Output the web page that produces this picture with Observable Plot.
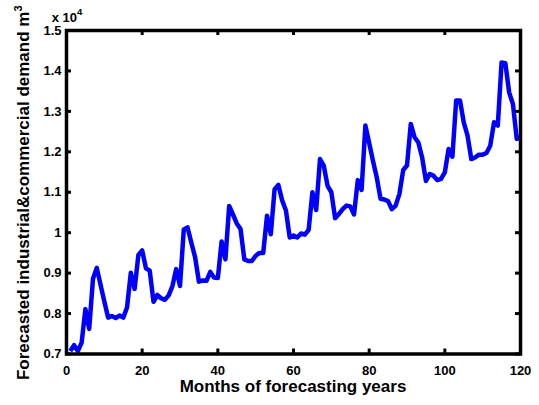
<!DOCTYPE html>
<html>
<head>
<meta charset="utf-8">
<script src="https://cdn.jsdelivr.net/npm/d3@7"></script>
<script src="https://cdn.jsdelivr.net/npm/@observablehq/plot@0.6"></script>
<style>
  html, body { margin: 0; padding: 0; background: #fff; }
  svg { display: block; }
</style>
</head>
<body>
<div id="chart"></div>
<script>
// Month index 1..120
const months = d3.range(1, 121);
// Forecasted industrial & commercial demand (m^3)
const demand = [
  7070, 7220, 7070, 7280, 8110, 7620, 8860, 9130, 8710, 8300, 7900, 7940,
  7890, 7950, 7900, 8150, 9010, 8610, 9450, 9560, 9120, 9060, 8290, 8460,
  8380, 8340, 8450, 8680, 9100, 8680, 10080, 10130, 9750, 9390, 8790, 8820,
  8810, 9030, 8890, 8880, 9780, 9340, 10660, 10450, 10230, 10090, 9340, 9300,
  9300, 9430, 9500, 9500, 10420, 9960, 11070, 11180, 10800, 10550, 9880, 9930,
  9880, 9980, 9950, 10070, 11000, 10560, 11820, 11660, 11160, 11000, 10360, 10460,
  10580, 10670, 10650, 10450, 11300, 11060, 12650, 12220, 11780, 11370, 10840, 10820,
  10780, 10580, 10670, 10960, 11550, 11660, 12690, 12360, 12230, 11860, 11280, 11450,
  11410, 11300, 11330, 11490, 12070, 11880, 13270, 13270, 12730, 12400, 11820, 11860,
  11930, 11930, 11970, 12150, 12730, 12650, 14210, 14190, 13470, 13180, 12320, 12360
];
const xTicks = [0, 20, 40, 60, 80, 100, 120];
const yTicks = [7000, 8000, 9000, 10000, 11000, 12000, 13000, 14000, 15000];

const W = 539, H = 405;
const mL = 66, mR = 19, mT = 30, mB = 51.5;
const innerW = W - mL - mR, innerH = H - mT - mB;
const tickLen = 5;

const data = months.map((m, i) => ({month: m, value: demand[i]}));
const font = "'Liberation Sans', Arial, Helvetica, sans-serif";

const chart = Plot.plot({
  width: W,
  height: H,
  marginLeft: mL,
  marginRight: mR,
  marginTop: mT,
  marginBottom: mB,
  x: {domain: [0, 120]},
  y: {domain: [7000, 15000]},
  style: {fontFamily: font, fontWeight: "bold", fontSize: "13px", color: "#000", background: "#fff", overflow: "visible"},
  marks: [
    Plot.line(data, {x: "month", y: "value", stroke: "#0000ff", strokeWidth: 4.5, strokeLinejoin: "round", strokeLinecap: "butt"}),
    Plot.tickX(xTicks, {x: d => d, insetTop: innerH - tickLen, stroke: "#000", strokeWidth: 3}),
    Plot.tickX(xTicks, {x: d => d, insetBottom: innerH - tickLen, stroke: "#000", strokeWidth: 3}),
    Plot.tickY(yTicks, {y: d => d, insetRight: innerW - tickLen, stroke: "#000", strokeWidth: 3}),
    Plot.tickY(yTicks, {y: d => d, insetLeft: innerW - tickLen, stroke: "#000", strokeWidth: 3}),
    Plot.frame({stroke: "#000", strokeWidth: 3.5}),
    Plot.axisX({ticks: xTicks, tickSize: 0, tickPadding: 12, tickFormat: d => String(d), label: null, fontWeight: "bold"}),
    Plot.axisY({ticks: yTicks, tickSize: 0, tickPadding: 5, tickFormat: d => String(+(d / 1e4).toFixed(1)), label: null, fontWeight: "bold"})
  ]
});

const svg = d3.select(chart);
// x-axis title
svg.append("text")
  .attr("x", mL + innerW / 2).attr("y", 392)
  .attr("text-anchor", "middle")
  .attr("font-family", font).attr("font-weight", "bold").attr("font-size", 17)
  .attr("fill", "#000")
  .text("Months of forecasting years");
// y-axis title with superscript
const yt = svg.append("text")
  .attr("transform", `translate(28.5,${mT + innerH / 2 + 1}) rotate(-90)`)
  .attr("text-anchor", "middle")
  .attr("font-family", font).attr("font-weight", "bold").attr("font-size", 17)
  .attr("fill", "#000");
yt.append("tspan").text("Forecasted industrial&commercial demand m");
yt.append("tspan").attr("font-size", 11).attr("dy", -7).text("3");
// exponent label
const ex = svg.append("text")
  .attr("x", 67).attr("y", 22)
  .attr("font-family", font).attr("font-weight", "bold").attr("font-size", 13)
  .attr("fill", "#000");
ex.append("tspan").text("x 10");
ex.append("tspan").attr("font-size", 9.5).attr("dy", -7).text("4");

document.getElementById("chart").appendChild(chart);
</script>
</body>
</html>
